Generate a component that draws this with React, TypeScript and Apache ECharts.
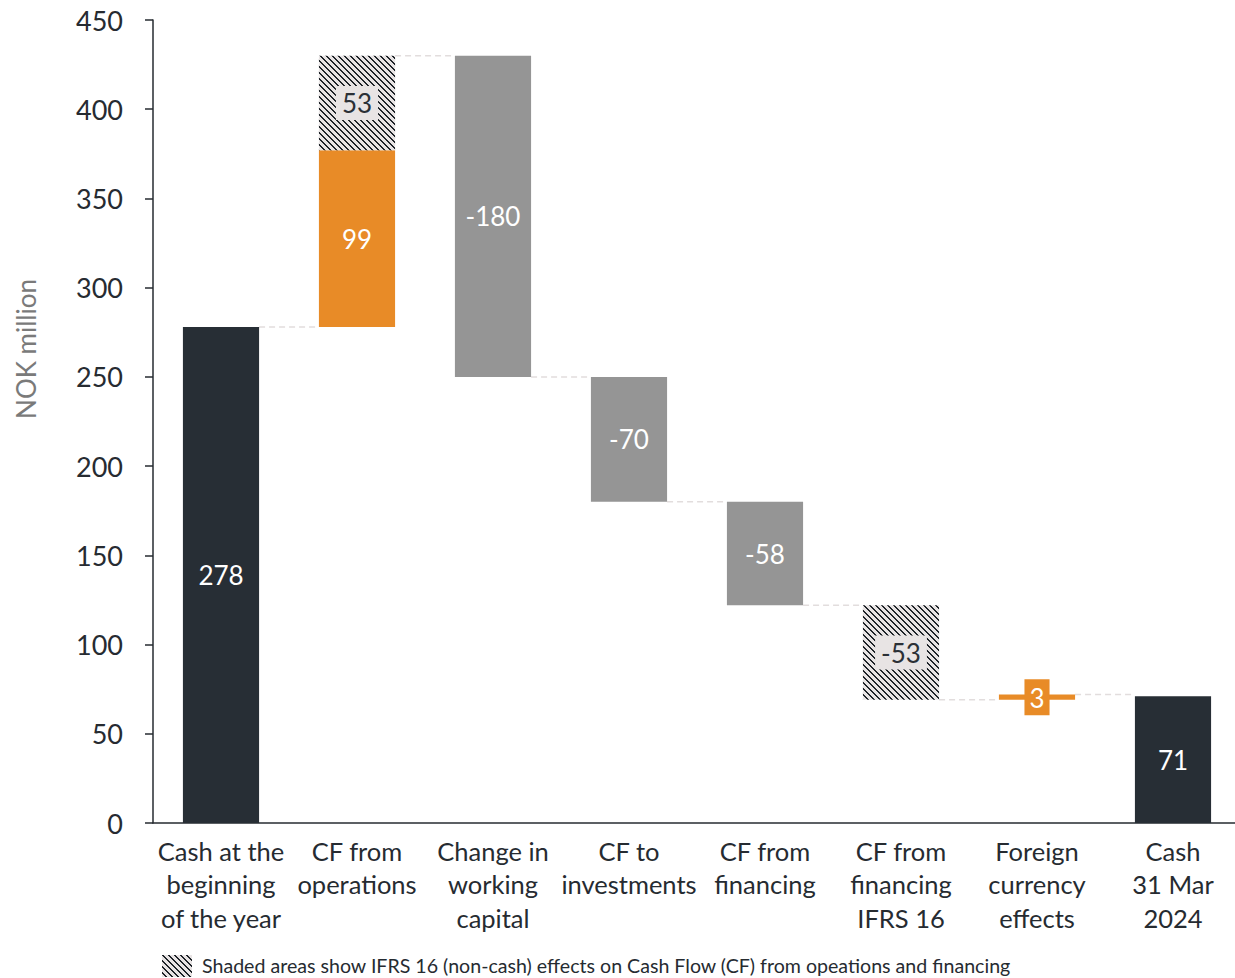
import React, { useEffect, useRef } from "react";
import * as echarts from "echarts";

const categories = [
  "Cash at the\nbeginning\nof the year",
  "CF from\noperations",
  "Change in\nworking\ncapital",
  "CF to\ninvestments",
  "CF from\nfinancing",
  "CF from\nfinancing\nIFRS 16",
  "Foreign\ncurrency\neffects",
  "Cash\n31 Mar\n2024",
];
// cash (solid) part of each bar
const cashValues = [278, 99, -180, -70, -58, 0, 3, 71];
// IFRS 16 (non-cash, shaded) part of each bar
const ifrsValues = [0, 53, 0, 0, 0, -53, 0, 0];
const isTotal = [true, false, false, false, false, false, false, true];

const yTicks = { min: 0, max: 450, interval: 50 };

const DARK = "#272e35";
const ORANGE = "#e88b27";
const GREY = "#959595";
const TEXT = "#262b31";
const FONT = "Lato";

function makePattern() {
  const s = 6;
  const c = document.createElement("canvas");
  c.width = s;
  c.height = s;
  const ctx = c.getContext("2d")!;
  ctx.fillStyle = "#e8e4e4";
  ctx.fillRect(0, 0, s, s);
  ctx.fillStyle = "#1f2429";
  for (let y = 0; y < s; y++) {
    ctx.fillRect(y % s, y, 1, 1);
    ctx.fillRect((y + 1) % s, y, 1, 1);
  }
  return { image: c.toDataURL(), repeat: "repeat", imageWidth: s, imageHeight: s } as any;
}

export default function App() {
  const ref = useRef<HTMLDivElement>(null);
  useEffect(() => {
    if (!ref.current) return;
    const chart = echarts.init(ref.current, null, { renderer: "svg" });
    const pattern = makePattern();

    const base: any[] = [];
    const solid: any[] = [];
    const hatched: any[] = [];
    const levels: number[] = [];
    let level = 0;
    categories.forEach((_, i) => {
      if (isTotal[i]) {
        base.push(0);
        solid.push({ value: cashValues[i], itemStyle: { color: DARK } });
        hatched.push("-");
        level = cashValues[i];
      } else {
        const c = cashValues[i];
        const h = ifrsValues[i];
        const lo = Math.min(level, level + c + h);
        base.push(lo);
        if (c !== 0) {
          solid.push({ value: Math.abs(c), itemStyle: { color: c > 0 ? ORANGE : GREY } });
        } else solid.push("-");
        hatched.push(h !== 0 ? Math.abs(h) : "-");
        level = level + c + h;
      }
      levels.push(level);
    });
    const connectors = levels.slice(0, levels.length - 1).map((v, i) => [i, v]);

    chart.setOption({
      animation: false,
      grid: { left: 153, top: 20, width: 1088, bottom: 155 },
      xAxis: {
        type: "category",
        data: categories,
        axisLine: { lineStyle: { color: TEXT, width: 1.5 } },
        axisTick: { show: false },
        axisLabel: {
          interval: 0,
          fontFamily: FONT,
          fontSize: 25.5,
          lineHeight: 33.5,
          color: TEXT,
          margin: 11,
        },
      },
      yAxis: {
        type: "value",
        ...yTicks,
        axisLine: { show: true, lineStyle: { color: TEXT, width: 1.5 } },
        axisTick: { show: true, length: 8, lineStyle: { color: TEXT, width: 1.5 } },
        splitLine: { show: false },
        axisLabel: { fontFamily: FONT, fontSize: 27, color: TEXT, margin: 30 },
      },
      graphic: [
        {
          type: "text",
          x: 26,
          y: 349,
          rotation: Math.PI / 2,
          style: {
            text: "NOK million",
            fontFamily: FONT,
            fontSize: 26,
            fill: "#7a7a7a",
            align: "center",
            verticalAlign: "middle",
          },
        },
        {
          type: "rect",
          left: 162,
          top: 955,
          shape: { width: 30, height: 22 },
          style: { fill: pattern },
        },
        {
          type: "text",
          left: 202,
          top: 955,
          style: {
            text: "Shaded areas show IFRS 16 (non-cash) effects on Cash Flow (CF) from opeations and financing",
            fontFamily: FONT,
            fontSize: 19.6,
            fill: TEXT,
          },
        },
      ],
      series: [
        {
          type: "custom",
          z: 1,
          silent: true,
          data: connectors,
          renderItem: (params: any, api: any) => {
            const i = api.value(0);
            const v = api.value(1);
            const p0 = api.coord([i, v]);
            const p1 = api.coord([i + 1, v]);
            const half = api.size([1, 0])[0] * 0.28;
            return {
              type: "line",
              shape: { x1: p0[0] + half, y1: p0[1], x2: p1[0] - half, y2: p1[1] },
              style: { stroke: "#e2dddd", lineWidth: 1.5, lineDash: [6, 4] },
            };
          },
        },
        {
          type: "bar",
          stack: "w",
          barWidth: "56%",
          silent: true,
          itemStyle: { color: "transparent" },
          data: base,
          z: 2,
        },
        {
          type: "bar",
          stack: "w",
          barWidth: "56%",
          z: 2,
          data: solid,
          label: {
            show: true,
            position: "inside",
            fontFamily: FONT,
            fontSize: 26,
            color: "#ffffff",
            formatter: (p: any) => {
              const v = cashValues[p.dataIndex];
              if (v === 3) return "{o|" + v + "}";
              return String(v);
            },
            rich: {
              o: {
                backgroundColor: ORANGE,
                color: "#ffffff",
                fontFamily: FONT,
                fontSize: 26,
                padding: [6, 5, 4, 5],
              },
            },
          },
        },
        {
          type: "bar",
          stack: "w",
          barWidth: "56%",
          z: 2,
          data: hatched,
          itemStyle: { color: pattern },
          label: {
            show: true,
            position: "inside",
            fontFamily: FONT,
            fontSize: 26,
            color: "#2b3036",
            backgroundColor: "#e8e4e4",
            padding: [5, 6, 3, 6],
            formatter: (p: any) => String(ifrsValues[p.dataIndex]),
          },
        },
      ],
    });
    return () => chart.dispose();
  }, []);
  return (
    <div
      ref={ref}
      style={{ position: "fixed", left: 0, top: 0, width: 1250, height: 978, background: "#fff" }}
    />
  );
}
